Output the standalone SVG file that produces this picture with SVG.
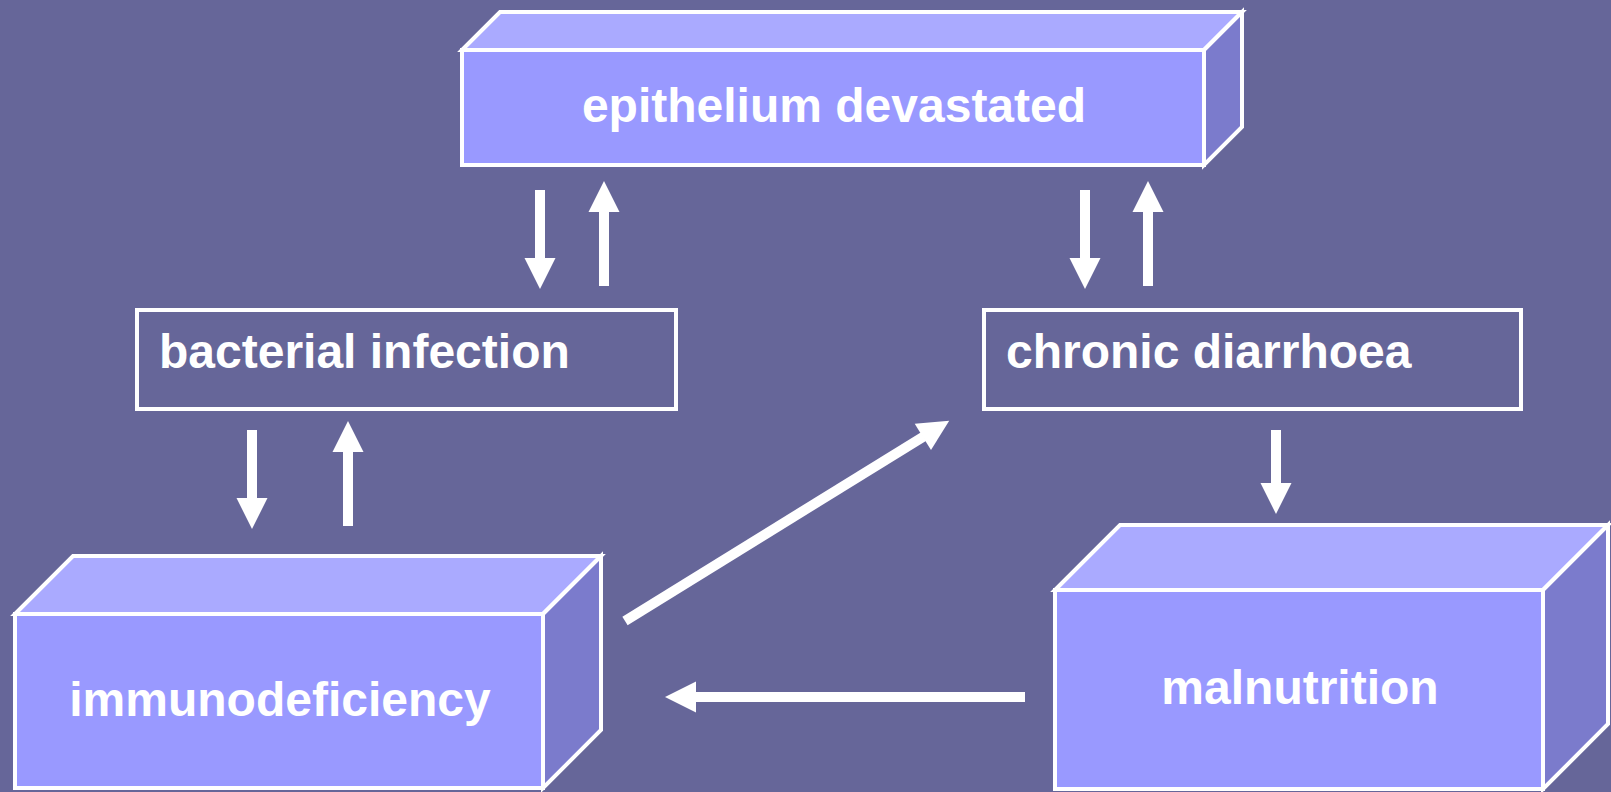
<svg xmlns="http://www.w3.org/2000/svg" width="1611" height="792" viewBox="0 0 1611 792">
<style>
.bg{fill:#666699}
.front{fill:#9999FF;stroke:#FFFFFF;stroke-width:4}
.top{fill:#AAAAFF;stroke:#FFFFFF;stroke-width:4;stroke-linejoin:miter}
.side{fill:#7B7BCC;stroke:#FFFFFF;stroke-width:4;stroke-linejoin:miter}
.flat{fill:none;stroke:#FFFFFF;stroke-width:4}
.lbl{font-family:"Liberation Sans",Arial,Helvetica,sans-serif;font-weight:bold;font-size:48px;fill:#FFFFFF}
.arr{stroke:#FFFFFF;stroke-width:10;fill:none;marker-end:url(#head)}
</style>
<defs>
<marker id="head" markerUnits="userSpaceOnUse" viewBox="0 -16 32 32" markerWidth="32" markerHeight="32" refX="1" refY="0" orient="auto" overflow="visible">
<path d="M0,-15.5 L31,0 L0,15.5 Z" fill="#FFFFFF"/>
</marker>
</defs>
<rect class="bg" x="0" y="0" width="1611" height="792"/>

<g id="epithelium">
<polygon class="top" points="462,50 500,12 1242,12 1204,50"/>
<polygon class="side" points="1204,50 1242,12 1242,127 1204,165"/>
<rect class="front" x="462" y="50" width="742" height="115"/>
<text class="lbl" x="834" y="122" text-anchor="middle">epithelium devastated</text>
</g>

<g id="bacterial">
<rect class="flat" x="137" y="310" width="539" height="99"/>
<text class="lbl" x="159" y="368">bacterial infection</text>
</g>

<g id="chronic">
<rect class="flat" x="984" y="310" width="537" height="99"/>
<text class="lbl" x="1006" y="368">chronic diarrhoea</text>
</g>

<g id="immunodeficiency">
<polygon class="top" points="15,614 73,556 601,556 543,614"/>
<polygon class="side" points="543,614 601,556 601,730 543,788"/>
<rect class="front" x="15" y="614" width="528" height="174"/>
<text class="lbl" x="280" y="716" text-anchor="middle">immunodeficiency</text>
</g>

<g id="malnutrition">
<polygon class="top" points="1055,590 1120,525 1608,525 1543,590"/>
<polygon class="side" points="1543,590 1608,525 1608,724 1543,789"/>
<rect class="front" x="1055" y="590" width="488" height="199"/>
<text class="lbl" x="1300" y="704" text-anchor="middle">malnutrition</text>
</g>

<g id="connectors">
<line class="arr" x1="540" y1="190" x2="540" y2="259"/>
<line class="arr" x1="604" y1="286" x2="604" y2="211"/>
<line class="arr" x1="1085" y1="190" x2="1085" y2="259"/>
<line class="arr" x1="1148" y1="286" x2="1148" y2="211"/>
<line class="arr" x1="252" y1="430" x2="252" y2="499"/>
<line class="arr" x1="348" y1="526" x2="348" y2="451"/>
<line class="arr" x1="1276" y1="430" x2="1276" y2="484"/>
<line class="arr" x1="1025" y1="697" x2="695" y2="697"/>
<line class="arr" x1="625" y1="621" x2="923.7" y2="436.4"/>
</g>
</svg>
